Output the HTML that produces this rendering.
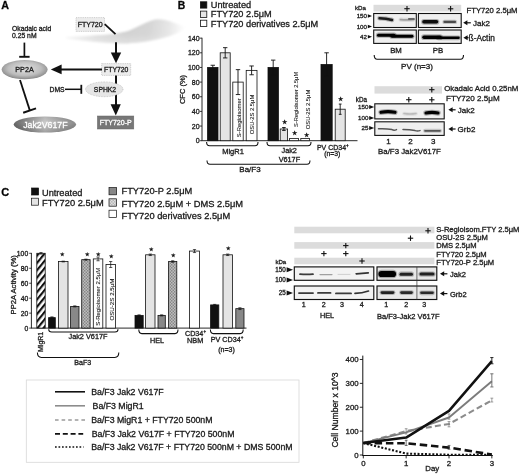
<!DOCTYPE html>
<html lang="en"><head><meta charset="utf-8"><title>Figure</title>
<style>
html,body{margin:0;padding:0;background:#fff;}
body{width:520px;height:474px;overflow:hidden;font-family:"Liberation Sans",Arial,Helvetica,sans-serif;}
svg{display:block;}
svg text{font-family:"Liberation Sans",Arial,Helvetica,sans-serif;stroke:#222;stroke-width:0.3px;}
svg text.w{stroke:#fff;}
svg text.s{stroke-width:0.08px;}
</style></head><body>
<svg width="520" height="474" viewBox="0 0 520 474">
<defs>
<linearGradient id="gband" x1="0" y1="0" x2="0" y2="1"><stop offset="0" stop-color="#d2d2d2"/><stop offset="1" stop-color="#fafafa"/></linearGradient>
<linearGradient id="glensx" gradientUnits="userSpaceOnUse" x1="66" y1="0" x2="187" y2="0"><stop offset="0" stop-color="#f6f6f6"/><stop offset="0.25" stop-color="#dcdcdc"/><stop offset="0.5" stop-color="#d0d0d0"/><stop offset="0.68" stop-color="#d4d4d4"/><stop offset="0.85" stop-color="#e6e6e6"/><stop offset="0.97" stop-color="#fdfdfd"/><stop offset="1" stop-color="#fff"/></linearGradient>
<linearGradient id="glensy" gradientUnits="userSpaceOnUse" x1="0" y1="19" x2="0" y2="44"><stop offset="0" stop-color="#fff" stop-opacity="0"/><stop offset="0.6" stop-color="#fff" stop-opacity="0.05"/><stop offset="1" stop-color="#fff" stop-opacity="0.35"/></linearGradient>
<radialGradient id="gpp2a" cx="0.5" cy="0.45" r="0.6"><stop offset="0" stop-color="#e4e4e4"/><stop offset="0.6" stop-color="#bdbdbd"/><stop offset="1" stop-color="#7d7d7d"/></radialGradient>
<linearGradient id="gjak" x1="0" y1="0" x2="1" y2="0"><stop offset="0" stop-color="#666"/><stop offset="0.5" stop-color="#cdcdcd"/><stop offset="1" stop-color="#8a8a8a"/></linearGradient>
<linearGradient id="gjak2" x1="0" y1="0" x2="0" y2="1"><stop offset="0" stop-color="#000" stop-opacity="0.12"/><stop offset="0.4" stop-color="#000" stop-opacity="0"/><stop offset="1" stop-color="#000" stop-opacity="0.22"/></linearGradient>
<pattern id="hatch" width="4.6" height="4.6" patternUnits="userSpaceOnUse" patternTransform="rotate(-51)"><rect width="4.6" height="4.6" fill="#fff"/><rect width="4.6" height="2.15" fill="#111"/></pattern>
<pattern id="dotsL" width="3" height="3" patternUnits="userSpaceOnUse"><rect width="3" height="3" fill="#cdcdcd"/><circle cx="0.75" cy="0.75" r="0.6" fill="#a4a4a4"/><circle cx="2.25" cy="2.25" r="0.6" fill="#a4a4a4"/><circle cx="2.25" cy="0.75" r="0.5" fill="#eee"/><circle cx="0.75" cy="2.25" r="0.5" fill="#eee"/></pattern>
<pattern id="dots" width="3" height="3" patternUnits="userSpaceOnUse"><rect width="3" height="3" fill="#acacac"/><circle cx="0.75" cy="0.75" r="0.65" fill="#7a7a7a"/><circle cx="2.25" cy="2.25" r="0.65" fill="#7a7a7a"/><circle cx="2.25" cy="0.75" r="0.5" fill="#cfcfcf"/><circle cx="0.75" cy="2.25" r="0.5" fill="#cfcfcf"/></pattern>
<filter id="blurband" filterUnits="userSpaceOnUse" x="0" y="0" width="520" height="474"><feGaussianBlur stdDeviation="2.6"/></filter>
<filter id="blur2b" filterUnits="userSpaceOnUse" x="0" y="0" width="520" height="474"><feGaussianBlur stdDeviation="0.8"/></filter>
<filter id="blur1" filterUnits="userSpaceOnUse" x="0" y="0" width="520" height="474"><feGaussianBlur stdDeviation="0.7"/></filter>
<filter id="blur2" filterUnits="userSpaceOnUse" x="0" y="0" width="520" height="474"><feGaussianBlur stdDeviation="0.45"/></filter>
</defs>
<rect width="520" height="474" fill="#fff"/>

<g id="panelA">
<text x="1.2" y="8.8" font-size="10.7" text-anchor="start" font-weight="bold" fill="#000">A</text>
<g filter="url(#blur2b)"><path d="M66 37 C90 35.6 108 34.8 116 33.4 C124 32 128 31 130 30.2 C140 26 150 19.3 158.5 19.2 C166 19.2 172 22 187 27.5 C180 32.2 171 36.3 161 38.6 C150 41.2 140 42.8 127 43.4 C112 44 90 41.8 66 38.6 Z" fill="url(#glensx)"/><path d="M66 37 C90 35.6 108 34.8 116 33.4 C124 32 128 31 130 30.2 C140 26 150 19.3 158.5 19.2 C166 19.2 172 22 187 27.5 C180 32.2 171 36.3 161 38.6 C150 41.2 140 42.8 127 43.4 C112 44 90 41.8 66 38.6 Z" fill="url(#glensy)"/></g>
<text x="12" y="30.6" font-size="6.8" text-anchor="start" font-weight="normal" fill="#111">Okadaic acid</text>
<text x="12" y="38" font-size="6.8" text-anchor="start" font-weight="normal" fill="#111">0.25 nM</text>
<rect x="76" y="17.6" width="28.5" height="13.8" fill="#ececec" stroke="#b0b0b0" stroke-width="0.6" stroke-dasharray="1 0.8"/>
<text x="90.2" y="27.3" font-size="7" text-anchor="middle" font-weight="normal" fill="#111">FTY720</text>
<line x1="104.7" y1="24.2" x2="115.5" y2="34.2" stroke="#111" stroke-width="1.8"/>
<line x1="116" y1="42.3" x2="116" y2="54" stroke="#111" stroke-width="2"/>
<path d="M110.8 52.4 L121.2 52.4 L116 63.2 Z" fill="#111"/>
<rect x="101.7" y="63.6" width="29.0" height="11.8" fill="#ececec" stroke="#b0b0b0" stroke-width="0.6" stroke-dasharray="1 0.8"/>
<text x="116.2" y="72.3" font-size="6.8" text-anchor="middle" font-weight="normal" fill="#111">FTY720</text>
<line x1="102" y1="69.4" x2="60" y2="69.4" stroke="#111" stroke-width="2"/>
<path d="M61.6 64.5 L61.6 74.3 L50.8 69.4 Z" fill="#111"/>
<ellipse cx="24.6" cy="69.6" rx="23" ry="9.6" fill="url(#gpp2a)"/>
<text x="24.5" y="72.3" font-size="7.2" text-anchor="middle" font-weight="normal" fill="#111">PP2A</text>
<line x1="24.4" y1="42.6" x2="24.4" y2="57" stroke="#111" stroke-width="1.7"/>
<line x1="19.2" y1="56.8" x2="29.6" y2="56.8" stroke="#111" stroke-width="1.9"/>
<text x="49.5" y="91.5" font-size="6.8" text-anchor="start" font-weight="normal" fill="#111">DMS</text>
<line x1="65" y1="89.3" x2="81" y2="89.3" stroke="#111" stroke-width="1.5"/>
<line x1="81.3" y1="84.8" x2="81.3" y2="93.8" stroke="#111" stroke-width="1.8"/>
<line x1="116" y1="75.5" x2="116" y2="106" stroke="#111" stroke-width="2"/>
<path d="M110.6 104.2 L120.8 104.2 L115.8 115.4 Z" fill="#111"/>
<ellipse cx="104.3" cy="89.3" rx="18.7" ry="7.4" fill="#e6e6e6" stroke="#aaa" stroke-width="0.6" stroke-dasharray="0.8 0.8"/>
<text x="105" y="91.9" font-size="6.8" text-anchor="middle" font-weight="normal" fill="#111">SPHK2</text>
<rect x="97.4" y="116" width="36.4" height="13" fill="#777" stroke="#666" stroke-width="0.5"/>
<text x="115.7" y="125.3" font-size="7" text-anchor="middle" font-weight="normal" fill="#fff" class="w">FTY720-P</text>
<line x1="20" y1="80" x2="29.8" y2="110.4" stroke="#111" stroke-width="1.8"/>
<line x1="23.2" y1="112.8" x2="36" y2="108.4" stroke="#111" stroke-width="2"/>
<ellipse cx="44.9" cy="124.5" rx="31.2" ry="8.1" fill="url(#gjak)"/><ellipse cx="44.9" cy="124.5" rx="31.2" ry="8.1" fill="url(#gjak2)"/>
<text x="45.4" y="127.8" font-size="8.8" text-anchor="middle" font-weight="normal" fill="#fff" class="w">Jak2V617F</text>
</g>
<g id="panelB">
<text x="177.8" y="8.6" font-size="10.4" text-anchor="start" font-weight="bold" fill="#000">B</text>
<rect x="200.5" y="1.8" width="6.3" height="6.3" fill="#111" stroke="#111" stroke-width="0.8"/>
<rect x="200.5" y="11.1" width="6.3" height="6.3" fill="#e4e4e4" stroke="#111" stroke-width="0.8"/>
<rect x="200.5" y="20.2" width="6.3" height="6.3" fill="#fff" stroke="#111" stroke-width="0.8"/>
<text x="210.8" y="8" font-size="9.2" text-anchor="start" font-weight="normal" fill="#111">Untreated</text>
<text x="210.8" y="17.4" font-size="9.2" text-anchor="start" font-weight="normal" fill="#111">FTY720 2.5μM</text>
<text x="210.8" y="26.8" font-size="9.2" text-anchor="start" font-weight="normal" fill="#111">FTY720 derivatives 2.5μM</text>
<line x1="202" y1="37.75" x2="202" y2="140.7" stroke="#111" stroke-width="0.9"/>
<line x1="201.6" y1="140.7" x2="357.5" y2="140.7" stroke="#111" stroke-width="0.9"/>
<line x1="199.8" y1="140.7" x2="202" y2="140.7" stroke="#111" stroke-width="0.8"/>
<text x="199.6" y="143.2" font-size="7" text-anchor="end" font-weight="normal" fill="#111">0</text>
<line x1="199.8" y1="126.05" x2="202" y2="126.05" stroke="#111" stroke-width="0.8"/>
<text x="199.6" y="128.55" font-size="7" text-anchor="end" font-weight="normal" fill="#111">20</text>
<line x1="199.8" y1="111.4" x2="202" y2="111.4" stroke="#111" stroke-width="0.8"/>
<text x="199.6" y="113.9" font-size="7" text-anchor="end" font-weight="normal" fill="#111">40</text>
<line x1="199.8" y1="96.75" x2="202" y2="96.75" stroke="#111" stroke-width="0.8"/>
<text x="199.6" y="99.25" font-size="7" text-anchor="end" font-weight="normal" fill="#111">60</text>
<line x1="199.8" y1="82.1" x2="202" y2="82.1" stroke="#111" stroke-width="0.8"/>
<text x="199.6" y="84.6" font-size="7" text-anchor="end" font-weight="normal" fill="#111">80</text>
<line x1="199.8" y1="67.45" x2="202" y2="67.45" stroke="#111" stroke-width="0.8"/>
<text x="199.6" y="69.95" font-size="7" text-anchor="end" font-weight="normal" fill="#111">100</text>
<line x1="199.8" y1="52.8" x2="202" y2="52.8" stroke="#111" stroke-width="0.8"/>
<text x="199.6" y="55.3" font-size="7" text-anchor="end" font-weight="normal" fill="#111">120</text>
<line x1="199.8" y1="38.15" x2="202" y2="38.15" stroke="#111" stroke-width="0.8"/>
<text x="199.6" y="40.65" font-size="7" text-anchor="end" font-weight="normal" fill="#111">140</text>
<text x="185" y="89.5" font-size="7.5" text-anchor="middle" font-weight="normal" fill="#111" transform="rotate(-90 185 89.5)">CFC (%)</text>
<rect x="207.6" y="67.45" width="10.4" height="73.25" fill="#111" stroke="#111" stroke-width="0.8"/>
<line x1="212.8" y1="65.25" x2="212.8" y2="69.65" stroke="#111" stroke-width="0.9"/>
<line x1="210.60000000000002" y1="65.25" x2="215.0" y2="65.25" stroke="#111" stroke-width="0.9"/>
<line x1="210.60000000000002" y1="69.65" x2="215.0" y2="69.65" stroke="#111" stroke-width="0.9"/>
<rect x="220.2" y="52.8" width="10.0" height="87.9" fill="#e4e4e4" stroke="#111" stroke-width="0.8"/>
<line x1="225.2" y1="47.67" x2="225.2" y2="57.93" stroke="#111" stroke-width="0.9"/>
<line x1="223.0" y1="47.67" x2="227.39999999999998" y2="47.67" stroke="#111" stroke-width="0.9"/>
<line x1="223.0" y1="57.93" x2="227.39999999999998" y2="57.93" stroke="#111" stroke-width="0.9"/>
<rect x="232.8" y="82.1" width="10.4" height="58.6" fill="#fff" stroke="#111" stroke-width="0.8"/>
<line x1="238.0" y1="69.65" x2="238.0" y2="94.55" stroke="#111" stroke-width="0.9"/>
<line x1="235.8" y1="69.65" x2="240.2" y2="69.65" stroke="#111" stroke-width="0.9"/>
<line x1="235.8" y1="94.55" x2="240.2" y2="94.55" stroke="#111" stroke-width="0.9"/>
<rect x="246.2" y="70.38" width="10.8" height="70.32" fill="#fff" stroke="#111" stroke-width="0.8"/>
<line x1="251.6" y1="65.98" x2="251.6" y2="74.77" stroke="#111" stroke-width="0.9"/>
<line x1="249.4" y1="65.98" x2="253.79999999999998" y2="65.98" stroke="#111" stroke-width="0.9"/>
<line x1="249.4" y1="74.77" x2="253.79999999999998" y2="74.77" stroke="#111" stroke-width="0.9"/>
<rect x="268" y="67.45" width="10.4" height="73.25" fill="#111" stroke="#111" stroke-width="0.8"/>
<line x1="273.2" y1="60.12" x2="273.2" y2="74.77" stroke="#111" stroke-width="0.9"/>
<line x1="271.0" y1="60.12" x2="275.4" y2="60.12" stroke="#111" stroke-width="0.9"/>
<line x1="271.0" y1="74.77" x2="275.4" y2="74.77" stroke="#111" stroke-width="0.9"/>
<rect x="280.2" y="128.98" width="7.4" height="11.72" fill="#e4e4e4" stroke="#111" stroke-width="0.8"/>
<line x1="283.9" y1="127.51" x2="283.9" y2="130.44" stroke="#111" stroke-width="0.9"/>
<line x1="282.09999999999997" y1="127.51" x2="285.7" y2="127.51" stroke="#111" stroke-width="0.9"/>
<line x1="282.09999999999997" y1="130.44" x2="285.7" y2="130.44" stroke="#111" stroke-width="0.9"/>
<rect x="289.6" y="138.5" width="8.8" height="2.2" fill="#fff" stroke="#111" stroke-width="0.8"/>
<rect x="300.8" y="138.5" width="8.8" height="2.2" fill="#fff" stroke="#111" stroke-width="0.8"/>
<rect x="321" y="64.52" width="11.2" height="76.18" fill="#111" stroke="#111" stroke-width="0.8"/>
<line x1="326.6" y1="52.8" x2="326.6" y2="76.24" stroke="#111" stroke-width="0.9"/>
<line x1="324.40000000000003" y1="52.8" x2="328.8" y2="52.8" stroke="#111" stroke-width="0.9"/>
<line x1="324.40000000000003" y1="76.24" x2="328.8" y2="76.24" stroke="#111" stroke-width="0.9"/>
<rect x="335.2" y="109.2" width="10.0" height="31.5" fill="#e4e4e4" stroke="#111" stroke-width="0.8"/>
<line x1="340.2" y1="104.07" x2="340.2" y2="114.33" stroke="#111" stroke-width="0.9"/>
<line x1="338.8" y1="104.07" x2="341.59999999999997" y2="104.07" stroke="#111" stroke-width="0.9"/>
<line x1="338.8" y1="114.33" x2="341.59999999999997" y2="114.33" stroke="#111" stroke-width="0.9"/>
<text x="240.6" y="137.2" font-size="5.9" text-anchor="start" font-weight="normal" fill="#111" transform="rotate(-90 240.6 137.2)" class="s">S-Regioisomer</text>
<text x="254.4" y="134.2" font-size="5.8" text-anchor="start" font-weight="normal" fill="#111" transform="rotate(-90 254.4 134.2)" class="s">OSU-2S 2.5μM</text>
<text x="298" y="127" font-size="5.7" text-anchor="start" font-weight="normal" fill="#111" transform="rotate(-90 298 127)" class="s">S-Regioisomer 2.5μM</text>
<text x="310.2" y="129.2" font-size="5.8" text-anchor="start" font-weight="normal" fill="#111" transform="rotate(-90 310.2 129.2)" class="s">OSU-2S 2.5μM</text>
<text x="284.4" y="123.6" font-size="6.4" text-anchor="middle" font-weight="normal" fill="#111" font-family="DejaVu Sans, sans-serif">★</text>
<text x="294.5" y="135.4" font-size="6.4" text-anchor="middle" font-weight="normal" fill="#111" font-family="DejaVu Sans, sans-serif">★</text>
<text x="306.7" y="136.6" font-size="6.4" text-anchor="middle" font-weight="normal" fill="#111" font-family="DejaVu Sans, sans-serif">★</text>
<text x="340.4" y="100.6" font-size="6.4" text-anchor="middle" font-weight="normal" fill="#111" font-family="DejaVu Sans, sans-serif">★</text>
<path d="M206.6 142 Q206.6 145.8 209.6 145.8 L255 145.8 Q258 145.8 258 142" fill="none" stroke="#111" stroke-width="1.05"/>
<path d="M267 142 Q267 145.8 270 145.8 L308 145.8 Q311 145.8 311 142" fill="none" stroke="#111" stroke-width="1.05"/>
<text x="233" y="154" font-size="7.5" text-anchor="middle" font-weight="normal" fill="#111">MigR1</text>
<text x="289.2" y="153.4" font-size="7.3" text-anchor="middle" font-weight="normal" fill="#111">Jak2</text>
<text x="289.4" y="161.8" font-size="7.3" text-anchor="middle" font-weight="normal" fill="#111">V617F</text>
<text x="332.8" y="149.8" font-size="7" text-anchor="middle" font-weight="normal" fill="#111">PV CD34<tspan font-size="4.5" dy="-3">+</tspan></text>
<text x="332.3" y="156.3" font-size="6.8" text-anchor="middle" font-weight="normal" fill="#111">(n=3)</text>
<path d="M207 160.5 Q207 164.2 210 164.2 L307 164.2 Q310 164.2 310 160.5" fill="none" stroke="#111" stroke-width="1.05"/>
<text x="250" y="171.8" font-size="8" text-anchor="middle" font-weight="normal" fill="#111">Ba/F3</text>
</g>
<g id="blot1">
<rect x="373.5" y="4.8" width="87.7" height="6.7" fill="#dcdcdc" stroke="none" stroke-width="0.8"/>
<text x="355" y="10.3" font-size="6.2" text-anchor="start" font-weight="normal" fill="#111">kDa</text>
<line x1="404.3" y1="8.7" x2="409.7" y2="8.7" stroke="#111" stroke-width="1.1"/>
<line x1="407" y1="5.999999999999999" x2="407" y2="11.399999999999999" stroke="#111" stroke-width="1.1"/>
<line x1="447.90000000000003" y1="8.8" x2="453.3" y2="8.8" stroke="#111" stroke-width="1.1"/>
<line x1="450.6" y1="6.1000000000000005" x2="450.6" y2="11.5" stroke="#111" stroke-width="1.1"/>
<text x="466.5" y="12.5" font-size="7.7" text-anchor="start" font-weight="normal" fill="#111">FTY720 2.5μM</text>
<text x="367.0" y="18.2" font-size="6.2" text-anchor="end" font-weight="normal" fill="#111">150</text>
<path d="M367.79999999999995 14.3 L371.99999999999994 16 L367.79999999999995 17.7 Z" fill="#111"/>
<text x="367.0" y="28.7" font-size="6.2" text-anchor="end" font-weight="normal" fill="#111">100</text>
<path d="M367.79999999999995 24.8 L371.99999999999994 26.5 L367.79999999999995 28.2 Z" fill="#111"/>
<text x="367.0" y="38.900000000000006" font-size="6.2" text-anchor="end" font-weight="normal" fill="#111">42</text>
<path d="M367.79999999999995 35.0 L371.99999999999994 36.7 L367.79999999999995 38.400000000000006 Z" fill="#111"/>
<rect x="373.7" y="13.5" width="42.6" height="14.0" fill="#efefef" stroke="none" stroke-width="0.8"/>
<rect x="418.4" y="13.5" width="42.8" height="14.0" fill="#efefef" stroke="none" stroke-width="0.8"/>
<rect x="373.7" y="30" width="42.6" height="13.4" fill="#efefef" stroke="none" stroke-width="0.8"/>
<rect x="418.4" y="30" width="42.8" height="13.4" fill="#efefef" stroke="none" stroke-width="0.8"/>
<path d="M379.5 18.2 Q386 18.2 392 20" stroke="#1c1c1c" stroke-opacity="0.28" stroke-width="4.6" stroke-linecap="round" fill="none" filter="url(#blur1)"/>
<path d="M379.5 18.2 Q386 18.2 392 20" stroke="#1c1c1c" stroke-width="2.5" stroke-linecap="round" fill="none" filter="url(#blur1)"/>
<path d="M400.5 19.6 Q407.0 20.200000000000003 413.5 19.6" stroke="#a0a0a0" stroke-opacity="0.28" stroke-width="4.1" stroke-linecap="round" fill="none" filter="url(#blur1)"/>
<path d="M400.5 19.6 Q407.0 20.200000000000003 413.5 19.6" stroke="#a0a0a0" stroke-width="1.9" stroke-linecap="round" fill="none" filter="url(#blur1)"/>
<path d="M409 19 Q411.4 19 413.8 19" stroke="#666" stroke-width="2.2" stroke-linecap="round" fill="none" filter="url(#blur1)"/>
<path d="M424 21.8 Q430.25 21.8 436.5 21.8" stroke="#0c0c0c" stroke-opacity="0.28" stroke-width="5.800000000000001" stroke-linecap="round" fill="none" filter="url(#blur1)"/>
<path d="M424 21.8 Q430.25 21.8 436.5 21.8" stroke="#0c0c0c" stroke-width="3.6" stroke-linecap="round" fill="none" filter="url(#blur1)"/>
<path d="M444.5 21.9 Q449.75 21.9 455 21.9" stroke="#4c4c4c" stroke-opacity="0.28" stroke-width="4.4" stroke-linecap="round" fill="none" filter="url(#blur1)"/>
<path d="M444.5 21.9 Q449.75 21.9 455 21.9" stroke="#4c4c4c" stroke-width="2.2" stroke-linecap="round" fill="none" filter="url(#blur1)"/>
<path d="M378.5 35.2 Q386.25 35.2 394 35.2" stroke="#060606" stroke-opacity="0.28" stroke-width="5.300000000000001" stroke-linecap="round" fill="none" filter="url(#blur1)"/>
<path d="M378.5 35.2 Q386.25 35.2 394 35.2" stroke="#060606" stroke-width="3.1" stroke-linecap="round" fill="none" filter="url(#blur1)"/>
<path d="M392 36.2 Q402.0 36.2 412 36.2" stroke="#060606" stroke-opacity="0.28" stroke-width="5.1" stroke-linecap="round" fill="none" filter="url(#blur1)"/>
<path d="M392 36.2 Q402.0 36.2 412 36.2" stroke="#060606" stroke-width="2.9" stroke-linecap="round" fill="none" filter="url(#blur1)"/>
<path d="M424 37.2 Q432.0 37.2 440 37.2" stroke="#060606" stroke-opacity="0.28" stroke-width="5.7" stroke-linecap="round" fill="none" filter="url(#blur1)"/>
<path d="M424 37.2 Q432.0 37.2 440 37.2" stroke="#060606" stroke-width="3.5" stroke-linecap="round" fill="none" filter="url(#blur1)"/>
<path d="M438 37.8 Q448.25 37.8 458.5 37.8" stroke="#060606" stroke-opacity="0.28" stroke-width="4.7" stroke-linecap="round" fill="none" filter="url(#blur1)"/>
<path d="M438 37.8 Q448.25 37.8 458.5 37.8" stroke="#060606" stroke-width="2.5" stroke-linecap="round" fill="none" filter="url(#blur1)"/>
<rect x="373.7" y="13.5" width="42.6" height="14.0" fill="none" stroke="#111" stroke-width="1.1"/>
<rect x="418.4" y="13.5" width="42.8" height="14.0" fill="none" stroke="#111" stroke-width="1.1"/>
<rect x="373.7" y="30" width="42.6" height="13.4" fill="none" stroke="#111" stroke-width="1.1"/>
<rect x="418.4" y="30" width="42.8" height="13.4" fill="none" stroke="#111" stroke-width="1.1"/>
<line x1="465.2" y1="22.8" x2="470.8" y2="22.8" stroke="#111" stroke-width="1.2"/>
<path d="M463.2 22.8 L467.4 20.3 L467.4 25.3 Z" fill="#111"/>
<text x="473" y="26" font-size="8" text-anchor="start" font-weight="normal" fill="#111">Jak2</text>
<line x1="465.4" y1="37.7" x2="468.6" y2="37.7" stroke="#111" stroke-width="1.2"/>
<path d="M463.4 37.7 L467.59999999999997 35.2 L467.59999999999997 40.2 Z" fill="#111"/>
<text x="468.6" y="40.7" font-size="8.3" text-anchor="start" font-weight="normal" fill="#111">ß-Actin</text>
<text x="396" y="53.4" font-size="7.8" text-anchor="middle" font-weight="normal" fill="#111">BM</text>
<text x="438" y="53.4" font-size="7.8" text-anchor="middle" font-weight="normal" fill="#111">PB</text>
<path d="M374.2 55 Q374.2 59.2 377.2 59.2 L460.5 59.2 Q463.5 59.2 463.5 55" fill="none" stroke="#111" stroke-width="1.1"/>
<text x="417" y="68.8" font-size="8" text-anchor="middle" font-weight="normal" fill="#111">PV (n=3)</text>
</g>
<g id="blot2">
<rect x="374.5" y="86.2" width="67.5" height="7.4" fill="#dcdcdc" stroke="none" stroke-width="0.8"/>
<line x1="429.1" y1="89.7" x2="434.5" y2="89.7" stroke="#111" stroke-width="1.1"/>
<line x1="431.8" y1="87.0" x2="431.8" y2="92.4" stroke="#111" stroke-width="1.1"/>
<line x1="406.1" y1="99.7" x2="411.5" y2="99.7" stroke="#111" stroke-width="1.1"/>
<line x1="408.8" y1="97.0" x2="408.8" y2="102.4" stroke="#111" stroke-width="1.1"/>
<line x1="429.1" y1="99.8" x2="434.5" y2="99.8" stroke="#111" stroke-width="1.1"/>
<line x1="431.8" y1="97.1" x2="431.8" y2="102.5" stroke="#111" stroke-width="1.1"/>
<text x="444.2" y="91.4" font-size="7.85" text-anchor="start" font-weight="normal" fill="#111">Okadaic Acid 0.25nM</text>
<text x="446" y="100.9" font-size="8.1" text-anchor="start" font-weight="normal" fill="#111">FTY720 2.5μM</text>
<text x="355.8" y="101.9" font-size="6.3" text-anchor="start" font-weight="normal" fill="#111">kDa</text>
<text x="368.40000000000003" y="109.2" font-size="6.2" text-anchor="end" font-weight="normal" fill="#111">150</text>
<path d="M369.2 105 L374.2 107 L369.2 109 Z" fill="#111"/>
<text x="368.40000000000003" y="120.10000000000001" font-size="6.2" text-anchor="end" font-weight="normal" fill="#111">100</text>
<path d="M369.2 115.9 L374.2 117.9 L369.2 119.9 Z" fill="#111"/>
<text x="368.40000000000003" y="130.1" font-size="6.2" text-anchor="end" font-weight="normal" fill="#111">25</text>
<path d="M369.2 125.9 L374.2 127.9 L369.2 129.9 Z" fill="#111"/>
<rect x="374.8" y="103.8" width="69.4" height="15.1" fill="#efefef" stroke="none" stroke-width="0.8"/>
<rect x="374.8" y="121.8" width="69.4" height="13.6" fill="#efefef" stroke="none" stroke-width="0.8"/>
<path d="M381 112.3 Q388.0 111.0 395 112.3" stroke="#050505" stroke-opacity="0.28" stroke-width="5.4" stroke-linecap="round" fill="none" filter="url(#blur1)"/>
<path d="M381 112.3 Q388.0 111.0 395 112.3" stroke="#050505" stroke-width="3.2" stroke-linecap="round" fill="none" filter="url(#blur1)"/>
<path d="M404 113.6 Q410.0 114.6 416 113.6" stroke="#bbb" stroke-opacity="0.28" stroke-width="3.7" stroke-linecap="round" fill="none" filter="url(#blur1)"/>
<path d="M404 113.6 Q410.0 114.6 416 113.6" stroke="#bbb" stroke-width="1.5" stroke-linecap="round" fill="none" filter="url(#blur1)"/>
<path d="M426 113 Q432.0 111.7 438 113" stroke="#050505" stroke-opacity="0.28" stroke-width="5.4" stroke-linecap="round" fill="none" filter="url(#blur1)"/>
<path d="M426 113 Q432.0 111.7 438 113" stroke="#050505" stroke-width="3.2" stroke-linecap="round" fill="none" filter="url(#blur1)"/>
<path d="M378.5 128.8 Q386 128.4 392 129.6 Q394 130.8 396.5 129.6" stroke="#555" stroke-width="1.5" stroke-linecap="round" fill="none" filter="url(#blur2)"/>
<path d="M403 129.4 Q410 129.4 415 130.6 Q417.5 131.4 420 130.6" stroke="#555" stroke-width="1.5" stroke-linecap="round" fill="none" filter="url(#blur2)"/>
<path d="M425 130.8 Q432.5 130.8 440 130.8" stroke="#555" stroke-opacity="0.28" stroke-width="3.9000000000000004" stroke-linecap="round" fill="none" filter="url(#blur1)"/>
<path d="M425 130.8 Q432.5 130.8 440 130.8" stroke="#555" stroke-width="1.7" stroke-linecap="round" fill="none" filter="url(#blur2)"/>
<rect x="374.8" y="103.8" width="69.4" height="15.1" fill="none" stroke="#111" stroke-width="1.1"/>
<rect x="374.8" y="121.8" width="69.4" height="13.6" fill="none" stroke="#111" stroke-width="1.1"/>
<line x1="450.4" y1="109.8" x2="455.6" y2="109.8" stroke="#111" stroke-width="1.2"/>
<path d="M448.4 109.8 L452.59999999999997 107.3 L452.59999999999997 112.3 Z" fill="#111"/>
<text x="457.8" y="112.8" font-size="8" text-anchor="start" font-weight="normal" fill="#111">Jak2</text>
<line x1="450.4" y1="129" x2="455.6" y2="129" stroke="#111" stroke-width="1.2"/>
<path d="M448.4 129 L452.59999999999997 126.5 L452.59999999999997 131.5 Z" fill="#111"/>
<text x="457.6" y="131.6" font-size="8" text-anchor="start" font-weight="normal" fill="#111">Grb2</text>
<text x="388.4" y="144.2" font-size="8" text-anchor="middle" font-weight="normal" fill="#111">1</text>
<text x="410.6" y="144.2" font-size="8" text-anchor="middle" font-weight="normal" fill="#111">2</text>
<text x="433.2" y="144.2" font-size="8" text-anchor="middle" font-weight="normal" fill="#111">3</text>
<text x="409.5" y="153.7" font-size="7.85" text-anchor="middle" font-weight="normal" fill="#111">Ba/F3 Jak2V617F</text>
</g>
<g id="panelC">
<text x="1.2" y="195.5" font-size="11" text-anchor="start" font-weight="bold" fill="#000">C</text>
<rect x="31.6" y="188" width="7.0" height="7" fill="#111" stroke="#111" stroke-width="0.7"/>
<rect x="31.6" y="198.2" width="7.0" height="7.0" fill="#e4e4e4" stroke="#111" stroke-width="0.7"/>
<text x="42" y="195.6" font-size="9.2" text-anchor="start" font-weight="normal" fill="#111">Untreated</text>
<text x="42" y="205.8" font-size="9.3" text-anchor="start" font-weight="normal" fill="#111">FTY720 2.5μM</text>
<rect x="109" y="187.6" width="7.6" height="7.2" fill="#888" stroke="#111" stroke-width="0.7"/>
<rect x="109" y="198.8" width="7.6" height="7.4" fill="url(#dotsL)" stroke="#111" stroke-width="0.7"/>
<rect x="109" y="210.2" width="7.6" height="7.4" fill="#fff" stroke="#111" stroke-width="0.7"/>
<text x="121.5" y="193.9" font-size="9.3" text-anchor="start" font-weight="normal" fill="#111">FTY720-P 2.5μM</text>
<text x="121.5" y="206.5" font-size="9.3" text-anchor="start" font-weight="normal" fill="#111">FTY720 2.5μM + DMS 2.5μM</text>
<text x="121.5" y="218.8" font-size="9.3" text-anchor="start" font-weight="normal" fill="#111">FTY720 derivatives 2.5μM</text>
<line x1="31.4" y1="252.9" x2="31.4" y2="328.1" stroke="#111" stroke-width="0.9"/>
<line x1="31" y1="328.1" x2="246.5" y2="328.1" stroke="#111" stroke-width="0.9"/>
<line x1="29.2" y1="328.1" x2="31.4" y2="328.1" stroke="#111" stroke-width="0.8"/>
<text x="28.2" y="330.6" font-size="6.8" text-anchor="end" font-weight="normal" fill="#111">0</text>
<line x1="29.2" y1="313.14" x2="31.4" y2="313.14" stroke="#111" stroke-width="0.8"/>
<text x="28.2" y="315.64" font-size="6.8" text-anchor="end" font-weight="normal" fill="#111">20</text>
<line x1="29.2" y1="298.18" x2="31.4" y2="298.18" stroke="#111" stroke-width="0.8"/>
<text x="28.2" y="300.68" font-size="6.8" text-anchor="end" font-weight="normal" fill="#111">40</text>
<line x1="29.2" y1="283.22" x2="31.4" y2="283.22" stroke="#111" stroke-width="0.8"/>
<text x="28.2" y="285.72" font-size="6.8" text-anchor="end" font-weight="normal" fill="#111">60</text>
<line x1="29.2" y1="268.26" x2="31.4" y2="268.26" stroke="#111" stroke-width="0.8"/>
<text x="28.2" y="270.76" font-size="6.8" text-anchor="end" font-weight="normal" fill="#111">80</text>
<line x1="29.2" y1="253.3" x2="31.4" y2="253.3" stroke="#111" stroke-width="0.8"/>
<text x="28.2" y="255.8" font-size="6.8" text-anchor="end" font-weight="normal" fill="#111">100</text>
<text x="16" y="284.8" font-size="7.7" text-anchor="middle" font-weight="normal" fill="#111" transform="rotate(-90 16 284.8)">PP2A Activity (%)</text>
<rect x="36.8" y="253.3" width="8.4" height="74.8" fill="url(#hatch)" stroke="#111" stroke-width="0.8"/>
<line x1="41.0" y1="252.55" x2="41.0" y2="254.05" stroke="#111" stroke-width="0.7"/>
<line x1="39.4" y1="252.55" x2="42.6" y2="252.55" stroke="#111" stroke-width="0.7"/>
<line x1="39.4" y1="254.05" x2="42.6" y2="254.05" stroke="#111" stroke-width="0.7"/>
<rect x="48.6" y="317.63" width="6.7" height="10.47" fill="#111" stroke="#111" stroke-width="0.8"/>
<line x1="51.95" y1="316.88" x2="51.95" y2="318.38" stroke="#111" stroke-width="0.7"/>
<line x1="50.35" y1="316.88" x2="53.550000000000004" y2="316.88" stroke="#111" stroke-width="0.7"/>
<line x1="50.35" y1="318.38" x2="53.550000000000004" y2="318.38" stroke="#111" stroke-width="0.7"/>
<rect x="58.5" y="261.53" width="9.5" height="66.57" fill="#e4e4e4" stroke="#111" stroke-width="0.8"/>
<line x1="63.25" y1="261.15" x2="63.25" y2="261.9" stroke="#111" stroke-width="0.7"/>
<line x1="61.65" y1="261.15" x2="64.85" y2="261.15" stroke="#111" stroke-width="0.7"/>
<line x1="61.65" y1="261.9" x2="64.85" y2="261.9" stroke="#111" stroke-width="0.7"/>
<rect x="70.6" y="306.41" width="8.4" height="21.69" fill="#888" stroke="#111" stroke-width="0.8"/>
<line x1="74.8" y1="305.88" x2="74.8" y2="306.93" stroke="#111" stroke-width="0.7"/>
<line x1="73.2" y1="305.88" x2="76.39999999999999" y2="305.88" stroke="#111" stroke-width="0.7"/>
<line x1="73.2" y1="306.93" x2="76.39999999999999" y2="306.93" stroke="#111" stroke-width="0.7"/>
<rect x="81.7" y="259.66" width="8.4" height="68.44" fill="url(#dots)" stroke="#111" stroke-width="0.8"/>
<line x1="85.9" y1="259.13" x2="85.9" y2="260.18" stroke="#111" stroke-width="0.7"/>
<line x1="84.30000000000001" y1="259.13" x2="87.5" y2="259.13" stroke="#111" stroke-width="0.7"/>
<line x1="84.30000000000001" y1="260.18" x2="87.5" y2="260.18" stroke="#111" stroke-width="0.7"/>
<rect x="93.3" y="258.91" width="9.5" height="69.19" fill="#fff" stroke="#111" stroke-width="0.8"/>
<line x1="98.05" y1="257.04" x2="98.05" y2="260.78" stroke="#111" stroke-width="0.7"/>
<line x1="96.45" y1="257.04" x2="99.64999999999999" y2="257.04" stroke="#111" stroke-width="0.7"/>
<line x1="96.45" y1="260.78" x2="99.64999999999999" y2="260.78" stroke="#111" stroke-width="0.7"/>
<rect x="106" y="264.52" width="9.4" height="63.58" fill="#fff" stroke="#111" stroke-width="0.8"/>
<line x1="110.7" y1="261.53" x2="110.7" y2="267.51" stroke="#111" stroke-width="0.7"/>
<line x1="109.10000000000001" y1="261.53" x2="112.3" y2="261.53" stroke="#111" stroke-width="0.7"/>
<line x1="109.10000000000001" y1="267.51" x2="112.3" y2="267.51" stroke="#111" stroke-width="0.7"/>
<rect x="135" y="315.38" width="8.2" height="12.72" fill="#111" stroke="#111" stroke-width="0.8"/>
<line x1="139.1" y1="314.86" x2="139.1" y2="315.91" stroke="#111" stroke-width="0.7"/>
<line x1="137.5" y1="314.86" x2="140.7" y2="314.86" stroke="#111" stroke-width="0.7"/>
<line x1="137.5" y1="315.91" x2="140.7" y2="315.91" stroke="#111" stroke-width="0.7"/>
<rect x="145.6" y="254.8" width="9.4" height="73.3" fill="#e4e4e4" stroke="#111" stroke-width="0.8"/>
<line x1="150.3" y1="254.05" x2="150.3" y2="255.54" stroke="#111" stroke-width="0.7"/>
<line x1="148.70000000000002" y1="254.05" x2="151.9" y2="254.05" stroke="#111" stroke-width="0.7"/>
<line x1="148.70000000000002" y1="255.54" x2="151.9" y2="255.54" stroke="#111" stroke-width="0.7"/>
<rect x="158" y="315.38" width="7.3" height="12.72" fill="#888" stroke="#111" stroke-width="0.8"/>
<line x1="161.65" y1="314.86" x2="161.65" y2="315.91" stroke="#111" stroke-width="0.7"/>
<line x1="160.05" y1="314.86" x2="163.25" y2="314.86" stroke="#111" stroke-width="0.7"/>
<line x1="160.05" y1="315.91" x2="163.25" y2="315.91" stroke="#111" stroke-width="0.7"/>
<rect x="168.6" y="261.53" width="8.2" height="66.57" fill="url(#dots)" stroke="#111" stroke-width="0.8"/>
<line x1="172.7" y1="260.78" x2="172.7" y2="262.28" stroke="#111" stroke-width="0.7"/>
<line x1="171.1" y1="260.78" x2="174.29999999999998" y2="260.78" stroke="#111" stroke-width="0.7"/>
<line x1="171.1" y1="262.28" x2="174.29999999999998" y2="262.28" stroke="#111" stroke-width="0.7"/>
<rect x="189.4" y="251.06" width="10.2" height="77.04" fill="#fff" stroke="#111" stroke-width="0.8"/>
<line x1="194.5" y1="249.56" x2="194.5" y2="252.55" stroke="#111" stroke-width="0.7"/>
<line x1="192.9" y1="249.56" x2="196.1" y2="249.56" stroke="#111" stroke-width="0.7"/>
<line x1="192.9" y1="252.55" x2="196.1" y2="252.55" stroke="#111" stroke-width="0.7"/>
<rect x="210.6" y="304.91" width="8.2" height="23.19" fill="#111" stroke="#111" stroke-width="0.8"/>
<line x1="214.7" y1="304.39" x2="214.7" y2="305.44" stroke="#111" stroke-width="0.7"/>
<line x1="213.1" y1="304.39" x2="216.29999999999998" y2="304.39" stroke="#111" stroke-width="0.7"/>
<line x1="213.1" y1="305.44" x2="216.29999999999998" y2="305.44" stroke="#111" stroke-width="0.7"/>
<rect x="223" y="254.8" width="9.4" height="73.3" fill="#e4e4e4" stroke="#111" stroke-width="0.8"/>
<line x1="227.7" y1="254.05" x2="227.7" y2="255.54" stroke="#111" stroke-width="0.7"/>
<line x1="226.1" y1="254.05" x2="229.29999999999998" y2="254.05" stroke="#111" stroke-width="0.7"/>
<line x1="226.1" y1="255.54" x2="229.29999999999998" y2="255.54" stroke="#111" stroke-width="0.7"/>
<rect x="235.8" y="308.65" width="8.2" height="19.45" fill="#888" stroke="#111" stroke-width="0.8"/>
<line x1="239.9" y1="307.75" x2="239.9" y2="309.55" stroke="#111" stroke-width="0.7"/>
<line x1="238.3" y1="307.75" x2="241.5" y2="307.75" stroke="#111" stroke-width="0.7"/>
<line x1="238.3" y1="309.55" x2="241.5" y2="309.55" stroke="#111" stroke-width="0.7"/>
<text x="100.2" y="325.8" font-size="6" text-anchor="start" font-weight="normal" fill="#111" transform="rotate(-90 100.2 325.8)" class="s">S-Regioisomer 2.5μM</text>
<text x="113.6" y="320.6" font-size="6.2" text-anchor="start" font-weight="normal" fill="#111" transform="rotate(-90 113.6 320.6)" class="s">OSU-2S 2.5μM</text>
<text x="61.8" y="255.8" font-size="5.4" text-anchor="middle" font-weight="normal" fill="#111" font-family="DejaVu Sans, sans-serif">★</text>
<text x="86.8" y="255.6" font-size="5.4" text-anchor="middle" font-weight="normal" fill="#111" font-family="DejaVu Sans, sans-serif">★</text>
<text x="98.4" y="255.6" font-size="5.4" text-anchor="middle" font-weight="normal" fill="#111" font-family="DejaVu Sans, sans-serif">★</text>
<text x="111.2" y="258.2" font-size="5.4" text-anchor="middle" font-weight="normal" fill="#111" font-family="DejaVu Sans, sans-serif">★</text>
<text x="150.7" y="250.6" font-size="5.4" text-anchor="middle" font-weight="normal" fill="#111" font-family="DejaVu Sans, sans-serif">★</text>
<text x="172.7" y="257" font-size="5.4" text-anchor="middle" font-weight="normal" fill="#111" font-family="DejaVu Sans, sans-serif">★</text>
<text x="227.6" y="249.8" font-size="5.4" text-anchor="middle" font-weight="normal" fill="#111" font-family="DejaVu Sans, sans-serif">★</text>
<text x="42.6" y="352" font-size="7" text-anchor="start" font-weight="normal" fill="#111" transform="rotate(-90 42.6 352)">MigR1</text>
<path d="M48.7 329.2 Q48.7 332 51.7 332 L115 332 Q118 332 118 329.2" fill="none" stroke="#111" stroke-width="1.05"/>
<text x="88" y="339.2" font-size="7.3" text-anchor="middle" font-weight="normal" fill="#111">Jak2 V617F</text>
<path d="M37.4 352.6 Q37.4 357.4 41.4 357.4 L114.8 357.4 Q118.8 357.4 118.8 352.6" fill="none" stroke="#111" stroke-width="1.05"/>
<text x="82.8" y="364.6" font-size="7.1" text-anchor="middle" font-weight="normal" fill="#111">BaF3</text>
<path d="M138.8 329.6 Q138.8 333.6 141.8 333.6 L175 333.6 Q178 333.6 178 329.6" fill="none" stroke="#111" stroke-width="1.05"/>
<text x="157" y="343.2" font-size="7.2" text-anchor="middle" font-weight="normal" fill="#111">HEL</text>
<text x="195.5" y="335.7" font-size="7.2" text-anchor="middle" font-weight="normal" fill="#111">CD34<tspan font-size="4.5" dy="-3">+</tspan></text>
<text x="195.2" y="342.7" font-size="7.3" text-anchor="middle" font-weight="normal" fill="#111">NBM</text>
<path d="M210.4 329.6 Q210.4 333.6 213.4 333.6 L240.2 333.6 Q243.2 333.6 243.2 329.6" fill="none" stroke="#111" stroke-width="1.05"/>
<text x="227" y="341.7" font-size="7.2" text-anchor="middle" font-weight="normal" fill="#111">PV CD34<tspan font-size="4.5" dy="-3">+</tspan></text>
<text x="226.5" y="351.6" font-size="7" text-anchor="middle" font-weight="normal" fill="#111">(n=3)</text>
</g>
<g id="blot3">
<rect x="294.3" y="226.7" width="140.1" height="6.6" fill="#dcdcdc" stroke="none" stroke-width="0.8"/>
<rect x="294.3" y="242.1" width="140.1" height="6.6" fill="#dcdcdc" stroke="none" stroke-width="0.8"/>
<rect x="294.3" y="257.7" width="140.1" height="6.6" fill="#dcdcdc" stroke="none" stroke-width="0.8"/>
<line x1="425.3" y1="230.8" x2="430.7" y2="230.8" stroke="#111" stroke-width="1.1"/>
<line x1="428" y1="228.10000000000002" x2="428" y2="233.5" stroke="#111" stroke-width="1.1"/>
<line x1="407.8" y1="238.2" x2="413.2" y2="238.2" stroke="#111" stroke-width="1.1"/>
<line x1="410.5" y1="235.5" x2="410.5" y2="240.89999999999998" stroke="#111" stroke-width="1.1"/>
<line x1="343.1" y1="245.6" x2="348.5" y2="245.6" stroke="#111" stroke-width="1.1"/>
<line x1="345.8" y1="242.9" x2="345.8" y2="248.29999999999998" stroke="#111" stroke-width="1.1"/>
<line x1="321.2" y1="253.6" x2="326.59999999999997" y2="253.6" stroke="#111" stroke-width="1.1"/>
<line x1="323.9" y1="250.9" x2="323.9" y2="256.3" stroke="#111" stroke-width="1.1"/>
<line x1="343.1" y1="253.6" x2="348.5" y2="253.6" stroke="#111" stroke-width="1.1"/>
<line x1="345.8" y1="250.9" x2="345.8" y2="256.3" stroke="#111" stroke-width="1.1"/>
<line x1="359.3" y1="261" x2="364.7" y2="261" stroke="#111" stroke-width="1.1"/>
<line x1="362" y1="258.3" x2="362" y2="263.7" stroke="#111" stroke-width="1.1"/>
<text x="436.3" y="232.2" font-size="7.6" text-anchor="start" font-weight="normal" fill="#111">S-Regioisom.FTY 2.5μM</text>
<text x="436.3" y="240.29999999999998" font-size="7.6" text-anchor="start" font-weight="normal" fill="#111">OSU-2S 2.5μM</text>
<text x="436.3" y="248.39999999999998" font-size="7.6" text-anchor="start" font-weight="normal" fill="#111">DMS 2.5μM</text>
<text x="436.3" y="256.5" font-size="7.6" text-anchor="start" font-weight="normal" fill="#111">FTY720 2.5μM</text>
<text x="436.3" y="264.59999999999997" font-size="7.6" text-anchor="start" font-weight="normal" fill="#111">FTY720-P 2.5μM</text>
<text x="275.4" y="264" font-size="6.1" text-anchor="start" font-weight="normal" fill="#111">kDa</text>
<text x="285.8" y="271.9" font-size="6.3" text-anchor="end" font-weight="normal" fill="#111">150</text>
<path d="M286.59999999999997 267.2 L292.99999999999994 269.7 L286.59999999999997 272.2 Z" fill="#111"/>
<text x="285.8" y="282.3" font-size="6.3" text-anchor="end" font-weight="normal" fill="#111">100</text>
<path d="M286.59999999999997 277.6 L292.99999999999994 280.1 L286.59999999999997 282.6 Z" fill="#111"/>
<text x="285.8" y="295.2" font-size="6.3" text-anchor="end" font-weight="normal" fill="#111">25</text>
<path d="M286.59999999999997 290.5 L292.99999999999994 293 L286.59999999999997 295.5 Z" fill="#111"/>
<rect x="294.3" y="266.9" width="79.5" height="13.4" fill="#f3f3f3" stroke="none" stroke-width="0.8"/>
<rect x="294.3" y="286" width="79.5" height="13.5" fill="#f3f3f3" stroke="none" stroke-width="0.8"/>
<rect x="377" y="266.9" width="59.8" height="13.4" fill="#e8e8e8" stroke="none" stroke-width="0.8"/>
<rect x="377" y="286" width="59.8" height="13.5" fill="#e8e8e8" stroke="none" stroke-width="0.8"/>
<path d="M300 274.2 Q306.5 274.7 313 274.2" stroke="#3a3a3a" stroke-width="1.7" stroke-linecap="round" fill="none" filter="url(#blur2)"/>
<path d="M320 274.6 Q326.0 274.6 332 274.6" stroke="#a0a0a0" stroke-width="1.2" stroke-linecap="round" fill="none" filter="url(#blur2)"/>
<path d="M338 274.4 Q344.0 274.4 350 274.4" stroke="#cfcfcf" stroke-width="1" stroke-linecap="round" fill="none" filter="url(#blur2)"/>
<path d="M356.2 273.8 L368.2 272.9" stroke="#333" stroke-width="1.8" stroke-linecap="round" filter="url(#blur2)"/>
<path d="M299 293.1 Q306.0 293.1 313 293.1" stroke="#3a3a3a" stroke-width="1.9" stroke-linecap="round" fill="none" filter="url(#blur2)"/>
<path d="M318 292.9 Q324.25 292.9 330.5 292.9" stroke="#3a3a3a" stroke-width="1.9" stroke-linecap="round" fill="none" filter="url(#blur2)"/>
<path d="M336 293.4 Q343.5 293.4 351 293.4" stroke="#3a3a3a" stroke-width="1.9" stroke-linecap="round" fill="none" filter="url(#blur2)"/>
<path d="M355 293.4 Q362 293.2 368.5 291" stroke="#333" stroke-width="1.7" stroke-linecap="round" fill="none" filter="url(#blur2)"/>
<path d="M381.5 274 Q387.25 274 393 274" stroke="#050505" stroke-opacity="0.28" stroke-width="8.4" stroke-linecap="round" fill="none" filter="url(#blur1)"/>
<path d="M381.5 274 Q387.25 274 393 274" stroke="#050505" stroke-width="6.2" stroke-linecap="round" fill="none" filter="url(#blur1)"/>
<path d="M401 274.2 Q406.25 274.2 411.5 274.2" stroke="#222" stroke-opacity="0.28" stroke-width="5.2" stroke-linecap="round" fill="none" filter="url(#blur1)"/>
<path d="M401 274.2 Q406.25 274.2 411.5 274.2" stroke="#222" stroke-width="3" stroke-linecap="round" fill="none" filter="url(#blur2)"/>
<path d="M421 274.1 Q427.0 274.1 433 274.1" stroke="#222" stroke-opacity="0.28" stroke-width="5.2" stroke-linecap="round" fill="none" filter="url(#blur1)"/>
<path d="M421 274.1 Q427.0 274.1 433 274.1" stroke="#222" stroke-width="3" stroke-linecap="round" fill="none" filter="url(#blur2)"/>
<path d="M382 292.6 Q387.5 292.6 393 292.6" stroke="#222" stroke-opacity="0.28" stroke-width="4.9" stroke-linecap="round" fill="none" filter="url(#blur1)"/>
<path d="M382 292.6 Q387.5 292.6 393 292.6" stroke="#222" stroke-width="2.7" stroke-linecap="round" fill="none" filter="url(#blur2)"/>
<path d="M401.5 292.6 Q406.5 292.6 411.5 292.6" stroke="#2a2a2a" stroke-opacity="0.28" stroke-width="4.800000000000001" stroke-linecap="round" fill="none" filter="url(#blur1)"/>
<path d="M401.5 292.6 Q406.5 292.6 411.5 292.6" stroke="#2a2a2a" stroke-width="2.6" stroke-linecap="round" fill="none" filter="url(#blur2)"/>
<path d="M421.5 292.8 Q427.0 292.8 432.5 292.8" stroke="#2a2a2a" stroke-opacity="0.28" stroke-width="4.800000000000001" stroke-linecap="round" fill="none" filter="url(#blur1)"/>
<path d="M421.5 292.8 Q427.0 292.8 432.5 292.8" stroke="#2a2a2a" stroke-width="2.6" stroke-linecap="round" fill="none" filter="url(#blur2)"/>
<rect x="294.3" y="266.9" width="79.5" height="13.4" fill="none" stroke="#111" stroke-width="1.15"/>
<rect x="294.3" y="286" width="79.5" height="13.5" fill="none" stroke="#111" stroke-width="1.15"/>
<rect x="377" y="266.9" width="59.8" height="13.4" fill="none" stroke="#111" stroke-width="1.15"/>
<rect x="377" y="286" width="59.8" height="13.5" fill="none" stroke="#111" stroke-width="1.15"/>
<line x1="416.9" y1="267" x2="416.9" y2="299.6" stroke="#333" stroke-width="0.7"/>
<line x1="442" y1="273.8" x2="447.4" y2="273.8" stroke="#111" stroke-width="1.2"/>
<path d="M440 273.8 L444.2 271.3 L444.2 276.3 Z" fill="#111"/>
<text x="450" y="276.7" font-size="7.5" text-anchor="start" font-weight="normal" fill="#111">Jak2</text>
<line x1="442" y1="293.6" x2="447.4" y2="293.6" stroke="#111" stroke-width="1.2"/>
<path d="M440 293.6 L444.2 291.1 L444.2 296.1 Z" fill="#111"/>
<text x="450" y="296.6" font-size="7.5" text-anchor="start" font-weight="normal" fill="#111">Grb2</text>
<text x="303.8" y="306.6" font-size="7.1" text-anchor="middle" font-weight="normal" fill="#111">1</text>
<text x="323.8" y="306.6" font-size="7.1" text-anchor="middle" font-weight="normal" fill="#111">2</text>
<text x="342" y="306.6" font-size="7.1" text-anchor="middle" font-weight="normal" fill="#111">3</text>
<text x="361.8" y="306.6" font-size="7.1" text-anchor="middle" font-weight="normal" fill="#111">4</text>
<text x="386.3" y="306.6" font-size="7.1" text-anchor="middle" font-weight="normal" fill="#111">1</text>
<text x="406.3" y="306.6" font-size="7.1" text-anchor="middle" font-weight="normal" fill="#111">2</text>
<text x="424.3" y="306.6" font-size="7.1" text-anchor="middle" font-weight="normal" fill="#111">3</text>
<text x="327" y="318.2" font-size="7.3" text-anchor="middle" font-weight="normal" fill="#111">HEL</text>
<text x="377" y="318.6" font-size="7.5" text-anchor="start" font-weight="normal" fill="#111">Ba/F3-Jak2 V617F</text>
</g>
<g id="legend">
<rect x="26.3" y="380" width="272.7" height="82.3" fill="#fff" stroke="#d8d8d8" stroke-width="0.8"/>
<line x1="55" y1="391.8" x2="85" y2="391.8" stroke="#111" stroke-width="1.6"/>
<line x1="55" y1="405.8" x2="85" y2="405.8" stroke="#8c8c8c" stroke-width="1.6"/>
<line x1="55" y1="420" x2="85" y2="420" stroke="#9a9a9a" stroke-width="1.6" stroke-dasharray="3.6 3"/>
<line x1="55" y1="433.9" x2="83.2" y2="433.9" stroke="#111" stroke-width="1.8" stroke-dasharray="5 2.8"/>
<line x1="55" y1="447" x2="83.5" y2="447" stroke="#111" stroke-width="1.6" stroke-dasharray="1.7 1.8"/>
<text x="91.2" y="394.5" font-size="8.75" text-anchor="start" font-weight="normal" fill="#111">Ba/F3 Jak2 V617F</text>
<text x="92.6" y="408.5" font-size="8.75" text-anchor="start" font-weight="normal" fill="#111">Ba/F3 MigR1</text>
<text x="91.2" y="422.7" font-size="8.75" text-anchor="start" font-weight="normal" fill="#111">Ba/F3 MigR1 + FTY720 500nM</text>
<text x="91.7" y="436.59999999999997" font-size="8.75" text-anchor="start" font-weight="normal" fill="#111">Ba/F3 Jak2 V617F + FTY720 500nM</text>
<text x="91.2" y="449.7" font-size="8.75" text-anchor="start" font-weight="normal" fill="#111">Ba/F3 Jak2 V617F + FTY720 500nM + DMS 500nM</text>
</g>
<g id="linechart">
<line x1="362.8" y1="355.6" x2="362.8" y2="455.5" stroke="#111" stroke-width="1"/>
<line x1="362.3" y1="455.5" x2="492.8" y2="455.5" stroke="#111" stroke-width="1"/>
<line x1="359.8" y1="455.0" x2="362.8" y2="455.0" stroke="#111" stroke-width="0.9"/>
<text x="358.6" y="457.8" font-size="7.8" text-anchor="end" font-weight="normal" fill="#111">0</text>
<line x1="359.8" y1="431.12" x2="362.8" y2="431.12" stroke="#111" stroke-width="0.9"/>
<text x="358.6" y="433.92" font-size="7.8" text-anchor="end" font-weight="normal" fill="#111">100</text>
<line x1="359.8" y1="407.24" x2="362.8" y2="407.24" stroke="#111" stroke-width="0.9"/>
<text x="358.6" y="410.04" font-size="7.8" text-anchor="end" font-weight="normal" fill="#111">200</text>
<line x1="359.8" y1="383.36" x2="362.8" y2="383.36" stroke="#111" stroke-width="0.9"/>
<text x="358.6" y="386.16" font-size="7.8" text-anchor="end" font-weight="normal" fill="#111">300</text>
<line x1="359.8" y1="359.48" x2="362.8" y2="359.48" stroke="#111" stroke-width="0.9"/>
<text x="358.6" y="362.28000000000003" font-size="7.8" text-anchor="end" font-weight="normal" fill="#111">400</text>
<line x1="363.3" y1="455.5" x2="363.3" y2="458.4" stroke="#111" stroke-width="0.9"/>
<text x="363.3" y="466.2" font-size="7.8" text-anchor="middle" font-weight="normal" fill="#111">0</text>
<line x1="406.15" y1="455.5" x2="406.15" y2="458.4" stroke="#111" stroke-width="0.9"/>
<text x="406.15" y="466.2" font-size="7.8" text-anchor="middle" font-weight="normal" fill="#111">1</text>
<line x1="449.0" y1="455.5" x2="449.0" y2="458.4" stroke="#111" stroke-width="0.9"/>
<text x="449.0" y="466.2" font-size="7.8" text-anchor="middle" font-weight="normal" fill="#111">2</text>
<line x1="491.85" y1="455.5" x2="491.85" y2="458.4" stroke="#111" stroke-width="0.9"/>
<text x="491.85" y="466.2" font-size="7.8" text-anchor="middle" font-weight="normal" fill="#111">3</text>
<text x="432.3" y="471" font-size="7.8" text-anchor="middle" font-weight="normal" fill="#111">Day</text>
<text x="338.3" y="410" font-size="8.6" text-anchor="middle" font-weight="normal" fill="#111" transform="rotate(-90 338.3 410)">Cell Number x 10^3</text>
<polyline points="363.3,443.06 406.15,431.12 449.0,423.96 491.85,400.31" fill="none" stroke="#8c8c8c" stroke-width="2.1" stroke-linejoin="round" stroke-dasharray="6 3.2"/>
<polyline points="363.3,443.06 406.15,432.31 449.0,417.51 491.85,381.21" fill="none" stroke="#7c7c7c" stroke-width="1.9" stroke-linejoin="round"/>
<polyline points="363.3,443.06 406.15,437.57 449.0,410.82 491.85,361.15" fill="none" stroke="#111" stroke-width="2.5" stroke-linejoin="round"/>
<polyline points="363.3,443.06 406.15,443.3 449.0,447.6 491.85,454.52" fill="none" stroke="#111" stroke-width="2.6" stroke-linejoin="round" stroke-dasharray="7.5 3.8"/>
<polyline points="363.3,443.06 406.15,453.57 449.0,454.76 491.85,454.76" fill="none" stroke="#111" stroke-width="2.1" stroke-linejoin="round" stroke-dasharray="2 1.7"/>
<line x1="491.85" y1="357.57" x2="491.85" y2="363.78" stroke="#111" stroke-width="0.9"/>
<line x1="490.25" y1="357.57" x2="493.45000000000005" y2="357.57" stroke="#111" stroke-width="0.9"/>
<line x1="490.25" y1="363.78" x2="493.45000000000005" y2="363.78" stroke="#111" stroke-width="0.9"/>
<line x1="491.85" y1="373.81" x2="491.85" y2="386.94" stroke="#666" stroke-width="0.9"/>
<line x1="490.25" y1="373.81" x2="493.45000000000005" y2="373.81" stroke="#666" stroke-width="0.9"/>
<line x1="490.25" y1="386.94" x2="493.45000000000005" y2="386.94" stroke="#666" stroke-width="0.9"/>
<line x1="491.85" y1="398.17" x2="491.85" y2="401.99" stroke="#777" stroke-width="0.7"/>
<line x1="490.45000000000005" y1="398.17" x2="493.25" y2="398.17" stroke="#777" stroke-width="0.7"/>
<line x1="490.45000000000005" y1="401.99" x2="493.25" y2="401.99" stroke="#777" stroke-width="0.7"/>
<line x1="449.0" y1="413.93" x2="449.0" y2="419.18" stroke="#777" stroke-width="0.7"/>
<line x1="447.6" y1="413.93" x2="450.4" y2="413.93" stroke="#777" stroke-width="0.7"/>
<line x1="447.6" y1="419.18" x2="450.4" y2="419.18" stroke="#777" stroke-width="0.7"/>
<line x1="449.0" y1="421.57" x2="449.0" y2="426.82" stroke="#777" stroke-width="0.7"/>
<line x1="447.6" y1="421.57" x2="450.4" y2="421.57" stroke="#777" stroke-width="0.7"/>
<line x1="447.6" y1="426.82" x2="450.4" y2="426.82" stroke="#777" stroke-width="0.7"/>
<line x1="406.15" y1="428.73" x2="406.15" y2="433.99" stroke="#777" stroke-width="0.7"/>
<line x1="404.75" y1="428.73" x2="407.54999999999995" y2="428.73" stroke="#777" stroke-width="0.7"/>
<line x1="404.75" y1="433.99" x2="407.54999999999995" y2="433.99" stroke="#777" stroke-width="0.7"/>
<line x1="406.15" y1="440.19" x2="406.15" y2="445.45" stroke="#333" stroke-width="0.7"/>
<line x1="404.75" y1="440.19" x2="407.54999999999995" y2="440.19" stroke="#333" stroke-width="0.7"/>
<line x1="404.75" y1="445.45" x2="407.54999999999995" y2="445.45" stroke="#333" stroke-width="0.7"/>
<line x1="449.0" y1="445.45" x2="449.0" y2="449.27" stroke="#333" stroke-width="0.7"/>
<line x1="447.6" y1="445.45" x2="450.4" y2="445.45" stroke="#333" stroke-width="0.7"/>
<line x1="447.6" y1="449.27" x2="450.4" y2="449.27" stroke="#333" stroke-width="0.7"/>
</g>
</svg>
</body></html>
